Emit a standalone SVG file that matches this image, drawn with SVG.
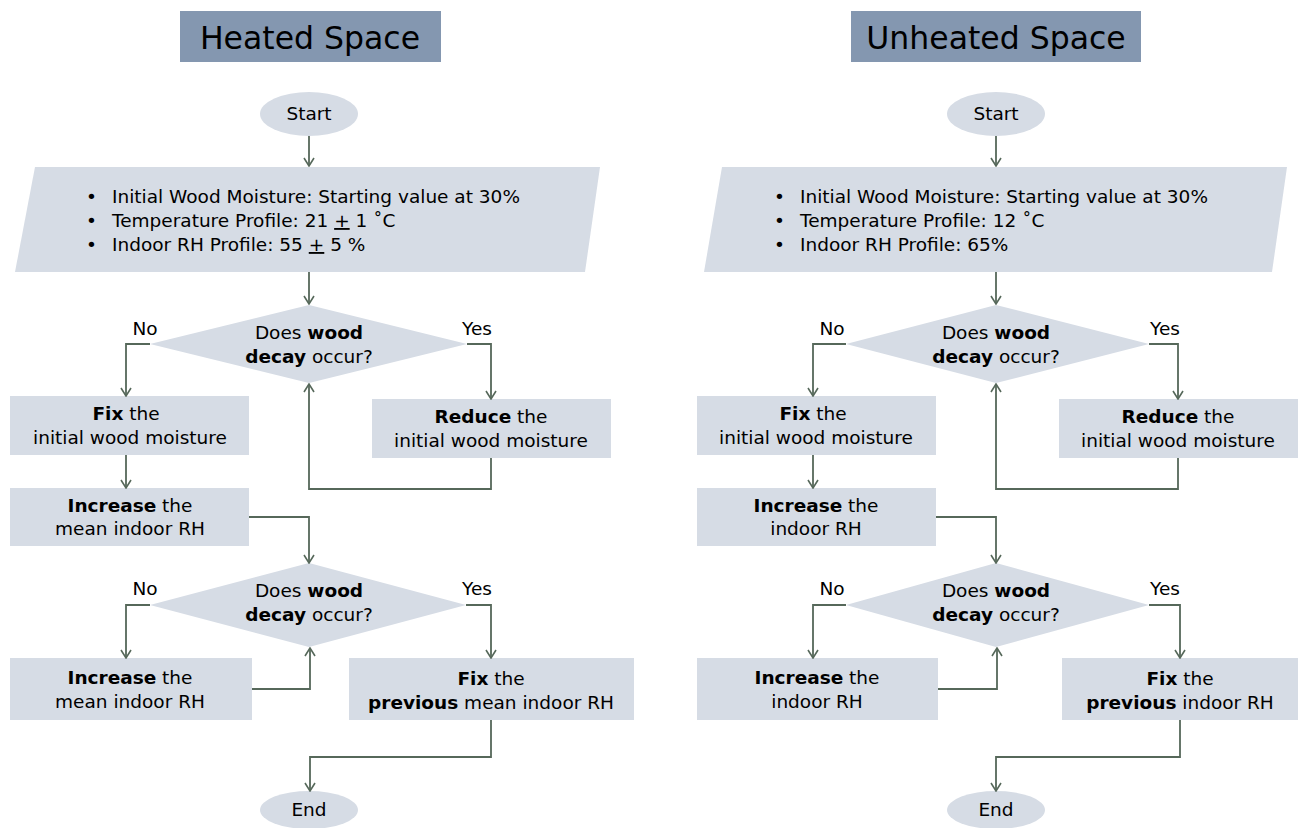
<svg xmlns="http://www.w3.org/2000/svg" width="1299" height="828" viewBox="0 0 1299 828">
<defs>
<style>
text{font-family:"DejaVu Sans","Liberation Sans",sans-serif;fill:#000}
.t{font-size:18.5px;text-anchor:middle}
.l{font-size:18.5px}
.h{font-size:31.5px;text-anchor:middle}
.b{font-weight:bold}
.title{fill:#8497b0}
.n{fill:#d6dce5}
.c{fill:none;stroke:#56685a;stroke-width:1.8}
</style>
<marker id="a" viewBox="0 0 12 12" refX="11" refY="6" markerWidth="12" markerHeight="12" markerUnits="userSpaceOnUse" orient="auto">
<path d="M3,1 L11,6 L3,11" fill="none" stroke="#56685a" stroke-width="1.6"/>
</marker>
</defs>
<rect width="1299" height="828" fill="#fff"/>

<!-- LEFT PANEL -->
<g id="title-heated"><rect class="title" x="180" y="11" width="261" height="51"/><text class="h" x="310" y="49">Heated Space</text></g>
<g id="start-l"><ellipse class="n" cx="309" cy="114" rx="49" ry="22"/><text class="t" x="309" y="120">Start</text></g>
<g id="input-l"><polygon class="n" points="35,167 600,167 585,272 15,272"/>
<text class="l" x="86" y="203">•</text><text class="l" x="112" y="203">Initial Wood Moisture: Starting value at 30%</text>
<text class="l" x="86" y="227">•</text><text class="l" x="112" y="227">Temperature Profile: 21 <tspan text-decoration="underline">+</tspan> 1 ˚C</text>
<text class="l" x="86" y="251">•</text><text class="l" x="112" y="251">Indoor RH Profile: 55 <tspan text-decoration="underline">+</tspan> 5 %</text></g>
<g id="dec1-l"><polygon class="n" points="309,305 467,344 309,383 150,344"/><text class="t" x="309" y="339">Does <tspan class="b">wood</tspan></text><text class="t" x="309" y="363"><tspan class="b">decay</tspan> occur?</text></g>
<g id="fix-l"><rect class="n" x="10" y="396" width="239" height="59"/><text class="t" x="126" y="420"><tspan class="b">Fix</tspan> the</text><text class="t" x="130" y="444">initial wood moisture</text></g>
<g id="reduce-l"><rect class="n" x="372" y="399" width="239" height="59"/><text class="t" x="491" y="423"><tspan class="b">Reduce</tspan> the</text><text class="t" x="491" y="447">initial wood moisture</text></g>
<g id="inc1-l"><rect class="n" x="10" y="488" width="239" height="58"/><text class="t" x="130" y="512"><tspan class="b">Increase</tspan> the</text><text class="t" x="130" y="535">mean indoor RH</text></g>
<g id="dec2-l"><polygon class="n" points="309,563 466,605 309,647 150,605"/><text class="t" x="309" y="597">Does <tspan class="b">wood</tspan></text><text class="t" x="309" y="621"><tspan class="b">decay</tspan> occur?</text></g>
<g id="inc2-l"><rect class="n" x="10" y="658" width="242" height="62"/><text class="t" x="130" y="684"><tspan class="b">Increase</tspan> the</text><text class="t" x="130" y="708">mean indoor RH</text></g>
<g id="fixprev-l"><rect class="n" x="349" y="658" width="285" height="62"/><text class="t" x="491" y="685"><tspan class="b">Fix</tspan> the</text><text class="t" x="491" y="709"><tspan class="b">previous</tspan> mean indoor RH</text></g>
<g id="end-l"><ellipse class="n" cx="309" cy="810" rx="49" ry="19"/><text class="t" x="309" y="816">End</text></g>

<!-- RIGHT PANEL -->
<g id="title-unheated"><rect class="title" x="851" y="11" width="290" height="51"/><text class="h" x="996" y="49">Unheated Space</text></g>
<g id="start-r"><ellipse class="n" cx="996" cy="114" rx="49" ry="22"/><text class="t" x="996" y="120">Start</text></g>
<g id="input-r"><polygon class="n" points="722,167 1287,167 1272,272 704,272"/>
<text class="l" x="774" y="203">•</text><text class="l" x="800" y="203">Initial Wood Moisture: Starting value at 30%</text>
<text class="l" x="774" y="227">•</text><text class="l" x="800" y="227">Temperature Profile: 12 ˚C</text>
<text class="l" x="774" y="251">•</text><text class="l" x="800" y="251">Indoor RH Profile: 65%</text></g>
<g id="dec1-r"><polygon class="n" points="996,305 1149,344 996,383 846,344"/><text class="t" x="996" y="339">Does <tspan class="b">wood</tspan></text><text class="t" x="996" y="363"><tspan class="b">decay</tspan> occur?</text></g>
<g id="fix-r"><rect class="n" x="697" y="396" width="239" height="59"/><text class="t" x="813" y="420"><tspan class="b">Fix</tspan> the</text><text class="t" x="816" y="444">initial wood moisture</text></g>
<g id="reduce-r"><rect class="n" x="1059" y="399" width="239" height="59"/><text class="t" x="1178" y="423"><tspan class="b">Reduce</tspan> the</text><text class="t" x="1178" y="447">initial wood moisture</text></g>
<g id="inc1-r"><rect class="n" x="697" y="488" width="239" height="58"/><text class="t" x="816" y="512"><tspan class="b">Increase</tspan> the</text><text class="t" x="816" y="535">indoor RH</text></g>
<g id="dec2-r"><polygon class="n" points="996,563 1149,605 996,647 846,605"/><text class="t" x="996" y="597">Does <tspan class="b">wood</tspan></text><text class="t" x="996" y="621"><tspan class="b">decay</tspan> occur?</text></g>
<g id="inc2-r"><rect class="n" x="697" y="658" width="241" height="62"/><text class="t" x="817" y="684"><tspan class="b">Increase</tspan> the</text><text class="t" x="817" y="708">indoor RH</text></g>
<g id="fixprev-r"><rect class="n" x="1062" y="658" width="236" height="62"/><text class="t" x="1180" y="685"><tspan class="b">Fix</tspan> the</text><text class="t" x="1180" y="709"><tspan class="b">previous</tspan> indoor RH</text></g>
<g id="end-r"><ellipse class="n" cx="996" cy="810" rx="49" ry="19"/><text class="t" x="996" y="816">End</text></g>

<!-- LABELS -->
<g id="labels">
<text class="t" x="145" y="335">No</text><text class="t" x="477" y="335">Yes</text>
<text class="t" x="145" y="595">No</text><text class="t" x="477" y="595">Yes</text>
<text class="t" x="832" y="335">No</text><text class="t" x="1165" y="335">Yes</text>
<text class="t" x="832" y="595">No</text><text class="t" x="1165" y="595">Yes</text>
</g>

<!-- CONNECTORS -->
<g id="connectors">
<path class="c" d="M309,136 V166" marker-end="url(#a)"/>
<path class="c" d="M309,272 V304" marker-end="url(#a)"/>
<path class="c" d="M150,344 H126 V396" marker-end="url(#a)"/>
<path class="c" d="M467,344 H491 V399" marker-end="url(#a)"/>
<path class="c" d="M491,458 V489 H309 V384" marker-end="url(#a)"/>
<path class="c" d="M126,455 V488" marker-end="url(#a)"/>
<path class="c" d="M249,517 H309 V563" marker-end="url(#a)"/>
<path class="c" d="M150,605 H126 V658" marker-end="url(#a)"/>
<path class="c" d="M466,605 H491 V658" marker-end="url(#a)"/>
<path class="c" d="M252,689 H310 V648" marker-end="url(#a)"/>
<path class="c" d="M491,720 V757 H310 V791" marker-end="url(#a)"/>

<path class="c" d="M996,136 V166" marker-end="url(#a)"/>
<path class="c" d="M996,272 V304" marker-end="url(#a)"/>
<path class="c" d="M846,344 H813 V396" marker-end="url(#a)"/>
<path class="c" d="M1149,344 H1178 V399" marker-end="url(#a)"/>
<path class="c" d="M1178,458 V489 H996 V384" marker-end="url(#a)"/>
<path class="c" d="M813,455 V488" marker-end="url(#a)"/>
<path class="c" d="M936,517 H996 V563" marker-end="url(#a)"/>
<path class="c" d="M846,605 H813 V658" marker-end="url(#a)"/>
<path class="c" d="M1149,605 H1180 V658" marker-end="url(#a)"/>
<path class="c" d="M938,689 H997 V648" marker-end="url(#a)"/>
<path class="c" d="M1180,720 V757 H996 V791" marker-end="url(#a)"/>
</g>
</svg>
